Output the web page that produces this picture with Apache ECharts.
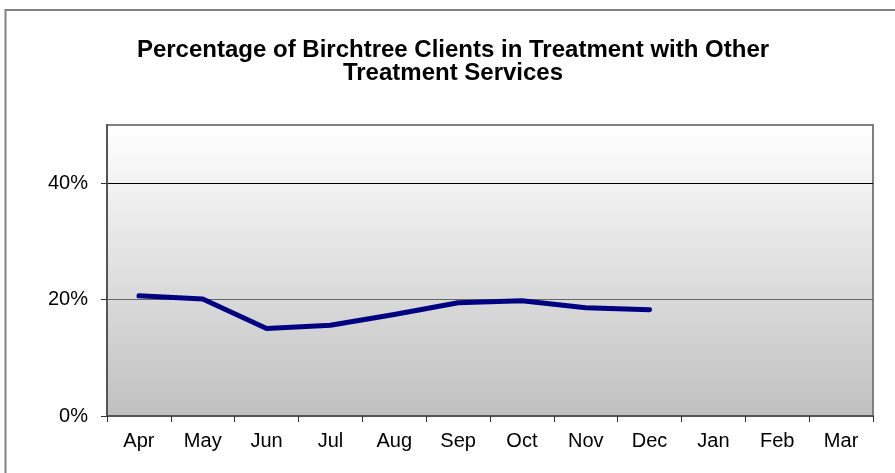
<!DOCTYPE html>
<html style="height: 100%">
<head>
<meta charset="utf-8">
</head>
<body style="height: 100%; margin: 0; background: #fff">
<div id="container" style="width: 895px; height: 473px"></div>
<script src="https://cdn.jsdelivr.net/npm/echarts@6/dist/echarts.min.js"></script>
<script type="text/javascript">
var months = ['Apr', 'May', 'Jun', 'Jul', 'Aug', 'Sep', 'Oct', 'Nov', 'Dec', 'Jan', 'Feb', 'Mar'];
var pctValues = [20.65, 20.1, 15.05, 15.6, 17.45, 19.45, 19.8, 18.6, 18.25, null, null, null];

var dom = document.getElementById('container');
var myChart = echarts.init(dom);

var option = {
  animation: false,
  textStyle: { fontFamily: 'Liberation Sans, Arial, sans-serif' },
  title: {
    text: 'Percentage of Birchtree Clients in Treatment with Other\nTreatment Services',
    left: 448,
    top: 34,
    textAlign: 'center',
    textStyle: { fontSize: 24, fontWeight: 'bold', color: '#000', lineHeight: 23 }
  },
  graphic: [{
    type: 'rect',
    shape: { x: 5.5, y: 10, width: 1000, height: 600 },
    style: { fill: 'none', stroke: '#808080', lineWidth: 2 },
    silent: true,
    z: -10
  }],
  grid: {
    left: 107,
    right: 22,
    top: 125,
    bottom: 57,
    show: true,
    borderColor: '#808080',
    borderWidth: 2,
    backgroundColor: new echarts.graphic.LinearGradient(0, 0, 0, 1, [
      { offset: 0, color: '#ffffff' },
      { offset: 1, color: '#c0c0c0' }
    ])
  },
  xAxis: {
    type: 'category',
    data: months,
    boundaryGap: true,
    axisLine: { lineStyle: { color: '#555', width: 2 } },
    axisTick: { show: true, length: 6, lineStyle: { color: '#333' } },
    axisLabel: { color: '#000', fontSize: 20, margin: 15 }
  },
  yAxis: {
    type: 'value',
    min: 0,
    max: 50,
    interval: 20,
    axisLine: { show: true, lineStyle: { color: '#555', width: 2 } },
    axisTick: { show: true, length: 6, lineStyle: { color: '#333' } },
    axisLabel: {
      color: '#000',
      fontSize: 20,
      margin: 19,
      showMaxLabel: false,
      formatter: function (v) { return v + '%'; }
    },
    splitLine: { show: true, lineStyle: { color: ['#666', '#666', '#000', '#808080'], width: 1 } }
  },
  series: [{
    type: 'line',
    data: pctValues,
    showSymbol: false,
    symbol: 'none',
    connectNulls: false,
    lineStyle: { color: '#000080', width: 5, cap: 'round', join: 'round' }
  }]
};

myChart.setOption(option);
</script>
</body>
</html>
